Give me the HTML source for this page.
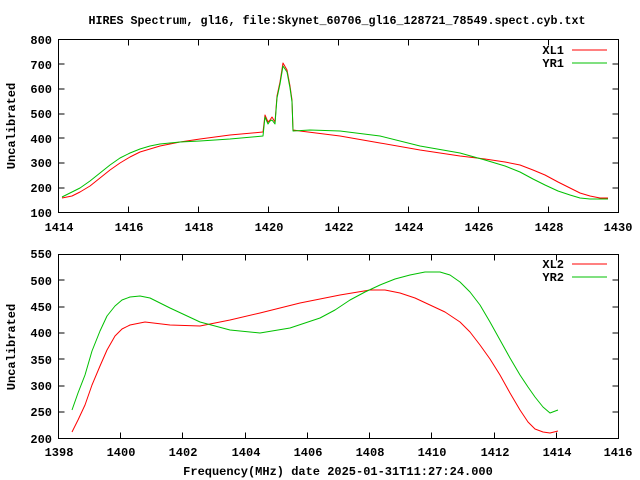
<!DOCTYPE html>
<html><head><meta charset="utf-8"><style>html,body{margin:0;padding:0;background:#fff}svg{display:block}</style></head><body>
<svg width="640" height="480" xmlns="http://www.w3.org/2000/svg" font-family="Liberation Mono, monospace" font-size="12" font-weight="bold">
<rect width="640" height="480" fill="#fff"/>
<text x="337" y="24" text-anchor="middle" textLength="497" lengthAdjust="spacingAndGlyphs">HIRES Spectrum, gl16, file:Skynet_60706_gl16_128721_78549.spect.cyb.txt</text>
<g stroke="#000" stroke-width="1" fill="none">
<rect x="58.5" y="39.5" width="560" height="173"/>
<rect x="58.5" y="254.5" width="560" height="184"/>
<path d="M58.5 188h6M618.5 188h-6M58.5 163h6M618.5 163h-6M58.5 138h6M618.5 138h-6M58.5 114h6M618.5 114h-6M58.5 89h6M618.5 89h-6M58.5 64h6M618.5 64h-6
M128.5 212.5v-6M128.5 39.5v6M198.5 212.5v-6M198.5 39.5v6M268.5 212.5v-6M268.5 39.5v6M338.5 212.5v-6M338.5 39.5v6M408.5 212.5v-6M408.5 39.5v6M478.5 212.5v-6M478.5 39.5v6M548.5 212.5v-6M548.5 39.5v6"/>
<path d="M58.5 412h6M618.5 412h-6M58.5 386h6M618.5 386h-6M58.5 359h6M618.5 359h-6M58.5 333h6M618.5 333h-6M58.5 307h6M618.5 307h-6M58.5 280h6M618.5 280h-6
M120.5 438.5v-6M120.5 254.5v6M182.5 438.5v-6M182.5 254.5v6M245.5 438.5v-6M245.5 254.5v6M307.5 438.5v-6M307.5 254.5v6M369.5 438.5v-6M369.5 254.5v6M431.5 438.5v-6M431.5 254.5v6M494.5 438.5v-6M494.5 254.5v6M556.5 438.5v-6M556.5 254.5v6"/>
</g>
<g text-anchor="end">
<text x="52" y="217">100</text><text x="52" y="192">200</text><text x="52" y="167">300</text><text x="52" y="143">400</text><text x="52" y="118">500</text><text x="52" y="93">600</text><text x="52" y="69">700</text><text x="52" y="44">800</text>
<text x="52" y="443">200</text><text x="52" y="416">250</text><text x="52" y="390">300</text><text x="52" y="364">350</text><text x="52" y="337">400</text><text x="52" y="311">450</text><text x="52" y="285">500</text><text x="52" y="258">550</text>
</g>
<g text-anchor="middle">
<text x="59" y="231">1414</text><text x="129" y="231">1416</text><text x="199" y="231">1418</text><text x="269" y="231">1420</text><text x="339" y="231">1422</text><text x="409" y="231">1424</text><text x="479" y="231">1426</text><text x="549" y="231">1428</text><text x="618" y="231">1430</text>
<text x="59" y="456">1398</text><text x="121" y="456">1400</text><text x="183" y="456">1402</text><text x="246" y="456">1404</text><text x="308" y="456">1406</text><text x="370" y="456">1408</text><text x="432" y="456">1410</text><text x="495" y="456">1412</text><text x="557" y="456">1414</text><text x="618" y="456">1416</text>
<text x="338" y="475">Frequency(MHz) date 2025-01-31T11:27:24.000</text>
</g>
<text transform="translate(15,126) rotate(-90)" text-anchor="middle">Uncalibrated</text>
<text transform="translate(15,347) rotate(-90)" text-anchor="middle">Uncalibrated</text>
<g text-anchor="end">
<text x="564" y="54">XL1</text><text x="564" y="67">YR1</text>
<text x="564" y="268">XL2</text><text x="564" y="281">YR2</text>
</g>
<g stroke-width="1" fill="none" stroke-linejoin="round">
<path d="M572 50h35" stroke="#f00"/><path d="M572 63h35" stroke="#00c000"/>
<path d="M572 264h35" stroke="#f00"/><path d="M572 277h35" stroke="#00c000"/>
<polyline stroke="#f00" points="62,198 72,196 80,192 90,186 100,178 110,170 120,163 130,157 140,152 150,149 160,146 180,142 200,139 230,135 263,132 265,115 268,122 270,120 272,117 275,122 277,96 280,82 283,63 287,70 290,86 292,100 293,130 300,131 340,136 380,143 420,150 460,156 485,159 505,162 520,165 533,170 545,175 558,182 570,188 580,193 590,196 600,198 608,198"/>
<polyline stroke="#00c000" points="62,197 72,192 80,188 90,181 100,173 110,165 120,158 130,153 140,149 150,146 160,144 180,142 200,141 230,139 263,136 265,117 268,124 270,121 272,120 275,124 277,98 280,84 283,66 287,72 290,88 292,102 293,131 310,130 340,131 380,136 420,146 460,153 485,160 505,166 520,172 533,179 545,185 558,191 570,195 580,198 590,199 608,199"/>
<polyline stroke="#f00" points="72,432 78,420 85,405 92,385 100,366 107,350 115,336 122,329 130,325 145,322 170,325 200,326 230,320 260,313 300,303 340,295 370,290 385,290 400,293 415,298 430,305 445,312 460,322 470,332 480,345 490,359 500,375 510,393 520,410 528,422 535,429 543,432 550,433 558,431"/>
<polyline stroke="#00c000" points="72,410 78,393 85,375 92,351 100,331 107,316 115,306 122,300 130,297 140,296 150,298 160,303 170,308 185,315 200,322 230,330 260,333 290,328 320,318 335,310 350,300 365,292 380,285 395,279 410,275 425,272 440,272 450,275 460,282 470,292 480,305 490,322 500,340 510,358 520,375 528,387 535,397 543,407 550,413 558,410"/>
</g>
</svg>
</body></html>
